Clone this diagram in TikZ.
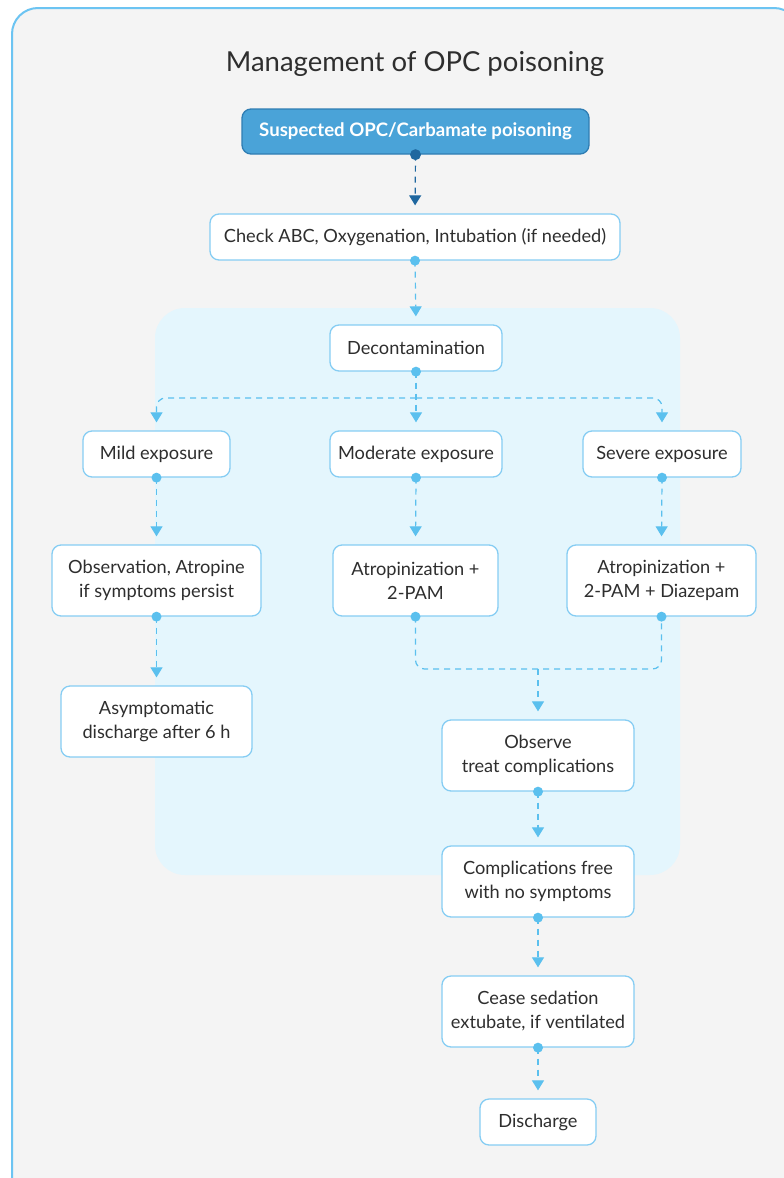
\documentclass[tikz,border=0pt]{standalone}
\usepackage{fontspec}
\setmainfont{Lato}
\usetikzlibrary{arrows.meta,calc}
\definecolor{bg}{HTML}{F4F4F4}
\definecolor{frame}{HTML}{6CC4F2}
\definecolor{panel}{HTML}{E4F6FD}
\definecolor{boxline}{HTML}{86CDF3}
\definecolor{conncol}{HTML}{5BC0EE}
\definecolor{txt}{HTML}{2E2E2E}
\definecolor{topfill}{HTML}{4AA3D8}
\definecolor{topline}{HTML}{2F7DB3}
\definecolor{topdot}{HTML}{1F679F}
\begin{document}
\begin{tikzpicture}[x=1pt,y=-1pt,
  box/.style={draw=boxline, fill=white, line width=1.3pt, rounded corners=9pt,
    align=center, font=\fontsize{18.2}{24}\selectfont, text=txt, inner sep=0pt},
  topbox/.style={draw=topline, fill=topfill, line width=1.3pt, rounded corners=9pt,
    align=center, font=\fontsize{18.6}{22}\selectfont\bfseries, text=white, inner sep=0pt},
  conn/.style={conncol, line width=1.2pt, dash pattern=on 6pt off 5pt,
    -{Triangle[width=12pt,length=10pt]}, shorten >=8pt},
  dline/.style={conncol, line width=1.2pt, dash pattern=on 6pt off 5pt, rounded corners=9pt}
]
\useasboundingbox (0,0) rectangle (784,1178);
\fill[white] (0,0) rectangle (784,1178);
\begin{scope}
\clip (0,0) rectangle (784,1178);
\draw[frame, line width=2pt, fill=bg, rounded corners=26pt] (12,8) rectangle (800,1210);
\end{scope}
\fill[panel, rounded corners=30pt] (155,308) rectangle (680,875);

\node[font=\fontsize{27.5}{30}\selectfont, text=txt] (title) at (415,64) {Management of OPC poisoning};

\node[topbox, minimum width=347pt, minimum height=45pt] (susp) at (415.5,131.5) {Suspected OPC/Carbamate poisoning};
\node[box, minimum width=410pt, minimum height=46pt] (abc) at (415,237) {Check ABC, Oxygenation, Intubation (if needed)};
\node[box, minimum width=172pt, minimum height=46pt] (decon) at (416,348) {Decontamination};
\node[box, minimum width=147pt, minimum height=46pt] (mild) at (156.5,454) {Mild exposure};
\node[box, minimum width=172pt, minimum height=46pt] (mod) at (416,454) {Moderate exposure};
\node[box, minimum width=158pt, minimum height=46pt] (sev) at (662,454) {Severe exposure};
\node[box, minimum width=209pt, minimum height=71pt] (obs) at (156.5,580.5) {Observation, Atropine\\if symptoms persist};
\node[box, minimum width=165pt, minimum height=71pt] (at2) at (415.5,580.5) {Atropinization +\\2-PAM};
\node[box, minimum width=189pt, minimum height=71pt] (at3) at (661.5,580.5) {Atropinization +\\2-PAM + Diazepam};
\node[box, minimum width=191pt, minimum height=71pt] (asym) at (156.5,721.5) {Asymptomatic\\discharge after 6 h};
\node[box, minimum width=192pt, minimum height=71pt] (observe) at (538,755.5) {Observe\\treat complications};
\node[box, minimum width=192pt, minimum height=71pt] (free) at (538,881.5) {Complications free\\with no symptoms};
\node[box, minimum width=192pt, minimum height=71pt] (cease) at (538,1011.5) {Cease sedation\\extubate, if ventilated};
\node[box, minimum width=116pt, minimum height=46pt] (dis) at (538,1122) {Discharge};

\coordinate (split) at (416,398);
\coordinate (merge) at (538,669);

\draw[conn, topdot] (susp.south) -- (abc.north);
\fill[topdot] (susp.south) circle (5.5pt);
\draw[conn] (abc.south) -- (decon.north);
\draw[conn] (decon.south) -- (mod.north);
\draw[dline, shorten >=8pt, -{Triangle[width=12pt,length=10pt]}] (split) -| (mild.north);
\draw[dline, shorten >=8pt, -{Triangle[width=12pt,length=10pt]}] (split) -| (sev.north);
\draw[conn] (mild.south) -- (obs.north);
\draw[conn] (mod.south) -- (at2.north);
\draw[conn] (sev.south) -- (at3.north);
\draw[conn] (obs.south) -- (asym.north);
\draw[dline] (at2.south) |- (merge) -| (at3.south);
\draw[conn] (merge) -- (observe.north);
\draw[conn] (observe.south) -- (free.north);
\draw[conn] (free.south) -- (cease.north);
\draw[conn] (cease.south) -- (dis.north);

\foreach \n in {abc,decon,mild,mod,sev,obs,at2,at3,observe,free,cease}
  \fill[conncol] (\n.south) circle (5pt);
\end{tikzpicture}
\end{document}
